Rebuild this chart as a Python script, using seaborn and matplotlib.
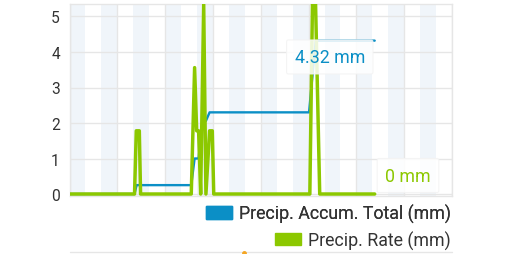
import matplotlib
matplotlib.use("Agg")
import matplotlib.pyplot as plt
from matplotlib.patches import Patch
from matplotlib.lines import Line2D
import seaborn as sns
import pandas as pd

# ---- data (hours since start of day, values in mm) ----
rate_hours = [0, 4.08, 4.19, 4.38, 4.46, 7.64, 7.85, 7.98, 8.10, 8.23, 8.42, 8.56,
              8.79, 8.96, 9.05, 15.08, 15.32, 15.70, 19.15]
rate_vals = [0, 0, 1.78, 1.78, 0, 0, 3.56, 1.78, 1.78, 0, 5.34, 0,
             1.78, 1.78, 0, 0, 7.8, 0, 0]

accum_hours = [0, 4.08, 4.21, 7.64, 7.85, 8.10, 8.23, 8.42, 8.56, 8.79, 15.03, 15.45, 19.15]
accum_vals = [0, 0, 0.25, 0.25, 1.0, 1.0, 1.6, 2.06, 2.06, 2.3, 2.3, 4.32, 4.32]

series_names = ["Precip. Accum. Total (mm)", "Precip. Rate (mm)"]
last_labels = ["4.32 mm", "0 mm"]
y_ticks = [0, 1, 2, 3, 4, 5]

BLUE = "#0b8fc6"
GREEN = "#8cc800"
GRID = "#e6e6e6"
BAND = "#f0f5fa"
TXT = "#333333"

sns.set_style("white")
plt.rcParams["font.family"] = ["Roboto", "DejaVu Sans"]

fig = plt.figure(figsize=(5.2, 2.55), dpi=100)
W, H = 520, 255
left_px, right_px, top_px, bot_px = 69.5, 452, 4.5, 196.5
ax = fig.add_axes([left_px / W, (H - bot_px) / H, (right_px - left_px) / W, (bot_px - top_px) / H])

# night bands
for h0 in range(0, 24, 2):
    ax.axvspan(h0, h0 + 1, color=BAND, lw=0, zorder=0)

df_acc = pd.DataFrame({"h": accum_hours, "v": accum_vals})
df_rate = pd.DataFrame({"h": rate_hours, "v": rate_vals})
sns.lineplot(data=df_acc, x="h", y="v", ax=ax, color=BLUE, lw=1.7, sort=False,
             estimator=None, zorder=3)
sns.lineplot(data=df_rate, x="h", y="v", ax=ax, color=GREEN, lw=2.5, sort=False,
             estimator=None, zorder=4)

ax.set_xlim(0, 24)
ax.set_ylim(-0.042, 5.366)
ax.set_yticks(y_ticks)
ax.set_xticks(range(0, 25, 3))
ax.set_xticklabels([])
ax.grid(True, color=GRID, lw=1.0, zorder=1)
ax.set_axisbelow(True)
ax.tick_params(axis="both", length=0)
ax.tick_params(axis="y", labelsize=11.2, labelcolor=TXT, pad=7)
ax.set_xlabel("")
ax.set_ylabel("")
for s in ax.spines.values():
    s.set_color(GRID)
    s.set_linewidth(1.0)

box = dict(boxstyle="round,pad=0.45,rounding_size=0.1", fc="white", ec="#f3f3f3",
           alpha=0.85, lw=0.8)
ax.text(16.33, 3.86, last_labels[0], color=BLUE, fontsize=12.8, ha="center",
        va="center", bbox=box, zorder=6)
ax.text(21.24, 0.52, last_labels[1], color=GREEN, fontsize=12.8, ha="center",
        va="center", bbox=box, zorder=6)

# legend rows, right aligned
common = dict(frameon=False, borderpad=0, borderaxespad=0, handlelength=1.47,
              handleheight=0.68, handletextpad=0.4, fontsize=12.8, labelcolor=TXT)
leg1 = fig.legend(handles=[Patch(color=BLUE)], labels=[series_names[0]],
                  loc="center right", bbox_to_anchor=(451 / W, (H - 214.5) / H), **common)
fig.add_artist(leg1)
fig.legend(handles=[Patch(color=GREEN)], labels=[series_names[1]],
           loc="center right", bbox_to_anchor=(451 / W, (H - 241) / H), **common)

# top edge of the next panel below
fig.add_artist(Line2D([70 / W, 452 / W], [2 / H, 2 / H], color=GRID, lw=1))
fig.add_artist(Line2D([244 / W], [1.5 / H], marker="o", ms=2.5, color="#f5a623", lw=0))

fig.savefig("out.png", dpi=100)
